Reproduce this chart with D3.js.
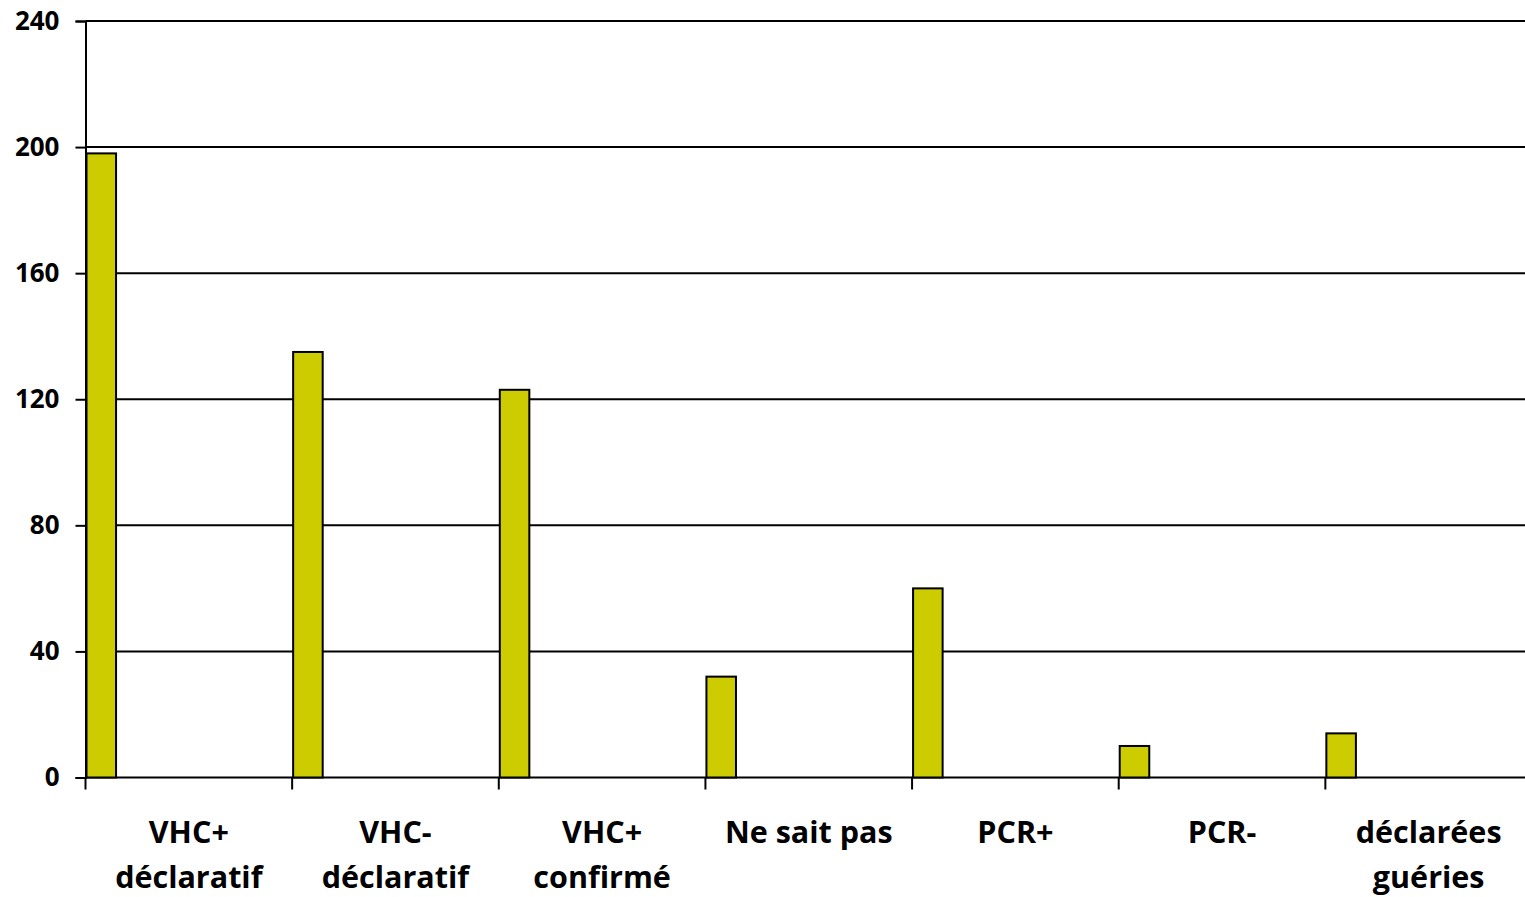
<!DOCTYPE html>
<html>
<head>
<meta charset="utf-8">
<script src="https://cdn.jsdelivr.net/npm/d3@7"></script>
<style>
  html, body { margin: 0; padding: 0; background: #fff; }
  svg { display: block; }
  .tick text { font-family: "Open Sans", Lato, sans-serif; font-weight: bold; }
</style>
</head>
<body>
<svg id="chart" width="1525" height="897"></svg>
<script>
// Category labels (two lines each) and counts
const categories = [
  ["VHC+", "déclaratif"],
  ["VHC-", "déclaratif"],
  ["VHC+", "confirmé"],
  ["Ne sait pas"],
  ["PCR+"],
  ["PCR-"],
  ["déclarées", "guéries"]
];
const values = [198, 135, 123, 32, 60, 10, 14];
const yTicks = [0, 40, 80, 120, 160, 200, 240];

(function () {
  const svg = d3.select("#chart");
  const mLeft = 85.5, mRight = 1532, mTop = 21, mBottom = 777.5;

  const x = d3.scaleBand()
    .domain(d3.range(categories.length))
    .range([mLeft, mRight])
    .paddingInner(0).paddingOuter(0);

  const y = d3.scaleLinear().domain([0, 240]).range([mBottom, mTop]);

  // Horizontal gridlines
  svg.append("g")
    .selectAll("line")
    .data(yTicks)
    .join("line")
    .attr("x1", mLeft).attr("x2", 1525)
    .attr("y1", d => y(d)).attr("y2", d => y(d))
    .attr("stroke", "#000").attr("stroke-width", 2);

  // Bars: one per category, at the start of each band
  const barW = x.bandwidth() * 0.143;
  svg.append("g")
    .selectAll("rect")
    .data(values)
    .join("rect")
    .attr("x", (d, i) => x(i) + 1)
    .attr("y", d => y(d))
    .attr("width", barW)
    .attr("height", d => y(0) - y(d))
    .attr("fill", "#CCCC00")
    .attr("stroke", "#000")
    .attr("stroke-width", 2);

  // Y axis
  const yAxis = svg.append("g")
    .attr("transform", `translate(${mLeft},0)`)
    .call(d3.axisLeft(y).tickValues(yTicks).tickSize(10).tickPadding(16));
  yAxis.select(".domain").attr("stroke", "#000").attr("stroke-width", 2);
  yAxis.selectAll(".tick line").attr("stroke", "#000").attr("stroke-width", 2);
  yAxis.selectAll(".tick text").attr("font-size", 26).attr("fill", "#000");

  // X axis: tick marks at band boundaries
  const bounds = d3.range(categories.length).map(i => x(i));
  svg.append("g")
    .selectAll("line")
    .data(bounds)
    .join("line")
    .attr("x1", d => d).attr("x2", d => d)
    .attr("y1", mBottom).attr("y2", mBottom + 12)
    .attr("stroke", "#000").attr("stroke-width", 2);

  // Category labels
  const labels = svg.append("g")
    .selectAll("text")
    .data(categories)
    .join("text")
    .attr("x", (d, i) => x(i) + x.bandwidth() / 2)
    .attr("y", 843)
    .attr("text-anchor", "middle")
    .attr("font-family", "'Open Sans', Lato, sans-serif")
    .attr("font-weight", "bold")
    .attr("font-size", 30.5)
    .attr("fill", "#000");
  labels.each(function (d, i) {
    const cx = x(i) + x.bandwidth() / 2;
    d3.select(this).selectAll("tspan")
      .data(d)
      .join("tspan")
      .attr("x", cx)
      .attr("dy", (t, j) => j === 0 ? 0 : 45)
      .text(t => t);
  });
})();
</script>
</body>
</html>
